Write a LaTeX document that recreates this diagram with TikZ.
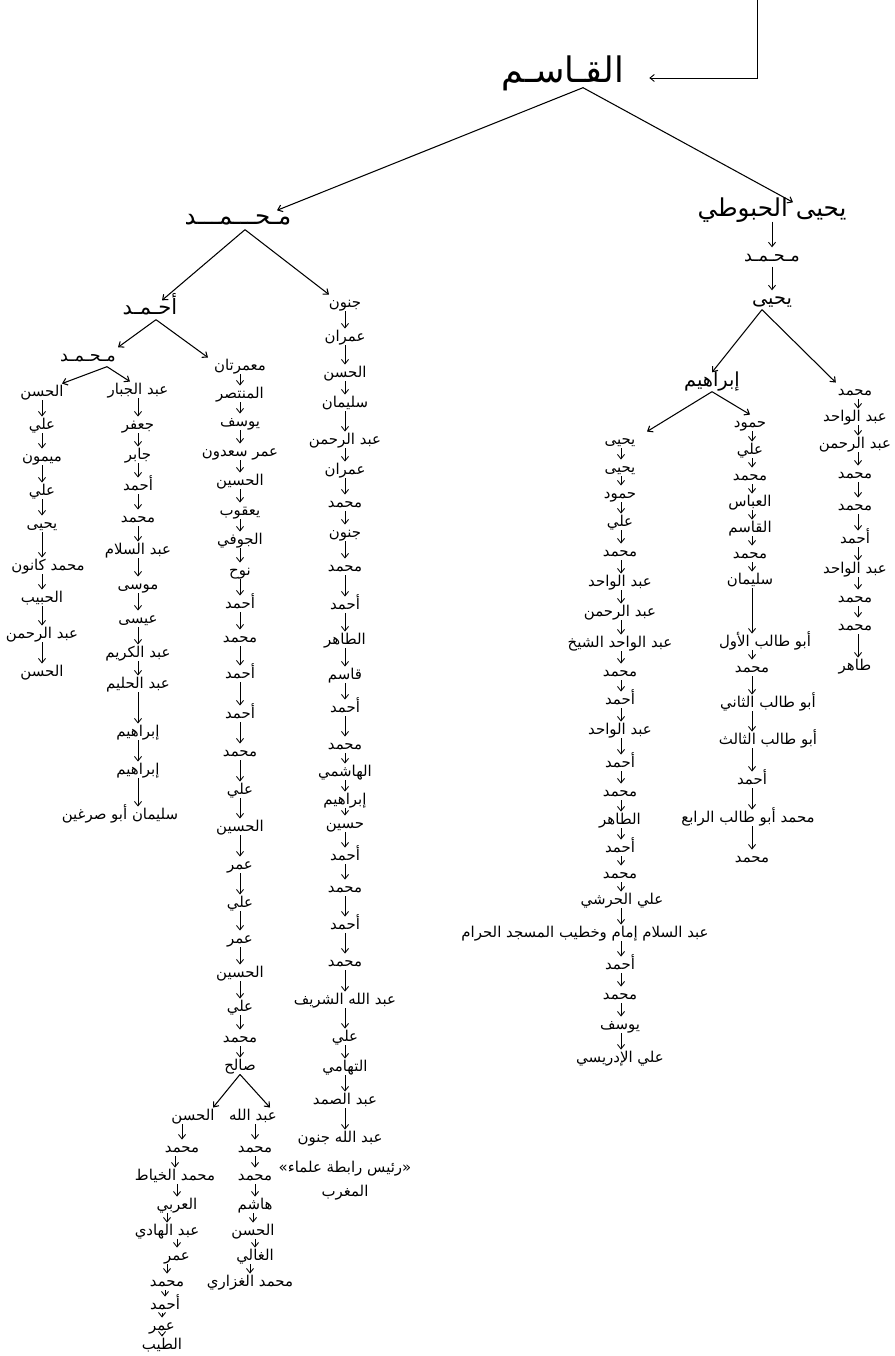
\documentclass[tikz,border=0pt]{standalone}
\usepackage{fontspec}
\newfontfamily\arabicfont[Script=Arabic]{DejaVu Sans}
\TeXXeTstate=1
\usetikzlibrary{arrows.meta,calc}
\tikzset{
  kin/.style={font=\arabicfont\fontsize{8.5}{10}\selectfont, inner xsep=1pt,
    inner ysep=.3pt, text height=1.65ex, text depth=.35ex,
    execute at begin node=\beginR, execute at end node=\endR},
  kinbig/.style={kin, inner ysep=1pt, font=\arabicfont\fontsize{#1}{#1}\selectfont},
  arr/.style={-{Straight Barb[length=2.5pt,width=4pt]}, line width=.5pt},
  fork/.style={arr, line width=.6pt}
}
\begin{document}
\begin{tikzpicture}[x=0.2mm,y=-0.2mm]
\path[use as bounding box,fill=white] (0,0) rectangle (895,1356);
%Kopf
\coordinate (src) at (757,-2);
\node[kinbig=20] (qasim) at (563,78) {القـاسـم};
\draw[arr] (src) |- ([xshift=4.6mm]qasim.east);
\node[kinbig=14] (m1) at (238,220) {مـحـــمـــد};
\node[kinbig=14] (yh) at (772,212) {يحيى الحبوطي};
\node[kinbig=10] (m2) at (772,257) {مـحـمـد};
\node[kinbig=11] (y2) at (772,300) {يحيى};
\node[kinbig=11] (ibr) at (712,382) {إبراهيم};
\node[kinbig=12] (ahmad) at (150,310) {أحـمـد};
\node[kinbig=10] (m3) at (88,357) {مـحـمـد};
\draw[arr] (yh.south) -- (m2.north);
\draw[arr] (m2.south) -- (y2.north);
%Spaltenachsen
\coordinate (mhrx) at (858,0);
\coordinate (hmdx) at (752,0);
\coordinate (yhcx) at (621,0);
\coordinate (jnnx) at (345,0);
\coordinate (mmtx) at (240,0);
\coordinate (hsnx) at (42,0);
\coordinate (jbrx) at (138,0);
%rechte Spalte
\foreach \xx/\yy/\nm [count=\i, remember=\i as \j (initially 0)] in {
  855/391/محمد,855/417/عبد الواحد,855/444/عبد الرحمن,855/474/محمد,
  855/506/محمد,855/539/أحمد,855/569/عبد الواحد,855/598/محمد,
  855/626/محمد,855/666/طاهر}{
  \node[kin] (mhr\i) at (\xx,\yy) {\nm};
  \ifnum\i>1 \draw[arr] (mhr\j.south -| mhrx) -- (mhr\i.north -| mhrx);\fi
}
%Hammud
\foreach \xx/\yy/\nm [count=\i, remember=\i as \j (initially 0)] in {
  750/423/حمود,750/450/علي,750/476/محمد,750/502/العباس,750/528/القاسم,
  750/554/محمد,750/580/سليمان,765/642/أبو طالب الأول,752/668/محمد,
  768/703/أبو طالب الثاني,768/740/أبو طالب الثالث,752/780/أحمد,
  748/818/محمد أبو طالب الرابع,752/858/محمد}{
  \node[kin] (hmd\i) at (\xx,\yy) {\nm};
  \ifnum\i>1 \draw[arr] (hmd\j.south -| hmdx) -- (hmd\i.north -| hmdx);\fi
}
%Yahya
\foreach \xx/\yy/\nm [count=\i, remember=\i as \j (initially 0)] in {
  620/440/يحيى,620/468/يحيى,620/494/حمود,620/522/علي,620/552/محمد,
  620/582/عبد الواحد,620/612/عبد الرحمن,620/643/عبد الواحد الشيخ,
  620/672/محمد,620/700/أحمد,620/730/عبد الواحد,620/763/أحمد,
  620/792/محمد,620/820/الطاهر,620/848/أحمد,620/874/محمد,
  622/900/علي الحرشي,585/933/عبد السلام إمام وخطيب المسجد الحرام,
  620/965/أحمد,620/995/محمد,620/1025/يوسف,620/1058/علي الإدريسي}{
  \node[kin] (yhc\i) at (\xx,\yy) {\nm};
  \ifnum\i>1 \draw[arr] (yhc\j.south -| yhcx) -- (yhc\i.north -| yhcx);\fi
}
%Jannun
\foreach \xx/\yy/\nm [count=\i, remember=\i as \j (initially 0)] in {
  345/303/جنون,345/337/عمران,345/373/الحسن,345/403/سليمان,
  345/440/عبد الرحمن,345/470/عمران,345/503/محمد,345/533/جنون,
  345/567/محمد,345/605/أحمد,345/640/الطاهر,345/675/قاسم,345/708/أحمد,
  345/745/محمد,345/772/الهاشمي,345/800/إبراهيم,345/824/حسين,
  345/856/أحمد,345/888/محمد,345/925/أحمد,345/962/محمد,
  345/1000/عبد الله الشريف,345/1037/علي,345/1067/التهامي,
  345/1100/عبد الصمد,340/1138/عبد الله جنون}{
  \node[kin] (jnn\i) at (\xx,\yy) {\nm};
  \ifnum\i>1 \draw[arr] (jnn\j.south -| jnnx) -- (jnn\i.north -| jnnx);\fi
}
\node[kin] (note1) at (345,1168) {«رئيس رابطة علماء»};
\node[kin] (note2) at (345,1192) {المغرب};
%Mu'ammartan
\foreach \xx/\yy/\nm [count=\i, remember=\i as \j (initially 0)] in {
  240/366/معمرتان,240/394/المنتصر,240/422/يوسف,240/452/عمر سعدون,
  240/481/الحسين,240/511/يعقوب,240/540/الجوفي,240/571/نوح,240/604/أحمد,
  240/638/محمد,240/674/أحمد,240/714/أحمد,240/752/محمد,240/790/علي,
  240/827/الحسين,240/865/عمر,240/903/علي,240/939/عمر,240/973/الحسين,
  240/1007/علي,240/1038/محمد,240/1066/صالح}{
  \node[kin] (mmt\i) at (\xx,\yy) {\nm};
  \ifnum\i>1 \draw[arr] (mmt\j.south -| mmtx) -- (mmt\i.north -| mmtx);\fi
}
%al-Hasan links
\foreach \xx/\yy/\nm [count=\i, remember=\i as \j (initially 0)] in {
  42/392/الحسن,42/425/علي,42/457/ميمون,42/491/علي,42/524/يحيى,
  48/566/محمد كانون,42/598/الحبيب,42/634/عبد الرحمن,42/672/الحسن}{
  \node[kin] (hsn\i) at (\xx,\yy) {\nm};
  \ifnum\i>1 \draw[arr] (hsn\j.south -| hsnx) -- (hsn\i.north -| hsnx);\fi
}
%Abd al-Jabbar
\foreach \xx/\yy/\nm [count=\i, remember=\i as \j (initially 0)] in {
  138/390/عبد الجبار,138/425/جعفر,138/455/جابر,138/486/أحمد,138/518/محمد,
  138/550/عبد السلام,138/585/موسى,138/619/عيسى,138/653/عبد الكريم,
  138/684/عبد الحليم,138/732/إبراهيم,138/770/إبراهيم,
  120/815/سليمان أبو صرغين}{
  \node[kin] (jbr\i) at (\xx,\yy) {\nm};
  \ifnum\i>1 \draw[arr] (jbr\j.south -| jbrx) -- (jbr\i.north -| jbrx);\fi
}
%unter Salih
\foreach \xx/\yy/\nm [count=\i, remember=\i as \j (initially 0)] in {
  193/1116/الحسن,182/1148/محمد,175/1176/محمد الخياط,177/1205/العربي,
  167/1231/عبد الهادي,177/1256/عمر,167/1282/محمد,165/1305/أحمد,
  162/1326/عمر,162/1345/الطيب}{
  \node[kin] (hsb\i) at (\xx,\yy) {\nm};
  \ifnum\i>1 \draw[arr] (hsb\i.north |- hsb\j.south) -- (hsb\i.north);\fi
}
\foreach \xx/\yy/\nm [count=\i, remember=\i as \j (initially 0)] in {
  253/1116/عبد الله,255/1148/محمد,255/1176/محمد,255/1205/هاشم,
  253/1231/الحسن,255/1256/الغالي,250/1282/محمد الغزاري}{
  \node[kin] (abd\i) at (\xx,\yy) {\nm};
  \ifnum\i>1 \draw[arr] (abd\i.north |- abd\j.south) -- (abd\i.north);\fi
}
%Verzweigungen
\draw[fork] ([xshift=4mm]qasim.south) -- ([xshift=7.8mm]m1.north);
\draw[fork] ([xshift=4mm]qasim.south) -- ([xshift=4.2mm]yh.north);
\draw[fork] ([xshift=-2mm]y2.south) -- (ibr.north);
\draw[fork] ([xshift=-2mm]y2.south) -- (mhr1.north west);
\draw[fork] (ibr.south) -- ([xshift=5.4mm]yhc1.north);
\draw[fork] (ibr.south) -- (hmd1.north);
\draw[fork] ([xshift=1.4mm]m1.south) -- ([xshift=2.4mm]ahmad.north);
\draw[fork] ([xshift=1.4mm]m1.south) -- ([xshift=-3.2mm]jnn1.north);
\draw[fork] ([xshift=1.2mm]ahmad.south) -- ([xshift=6mm]m3.north);
\draw[fork] ([xshift=1.2mm]ahmad.south) -- ([xshift=-6.4mm]mmt1.north);
\draw[fork] ([xshift=3.8mm]m3.south) -- ([xshift=4mm]hsn1.north);
\draw[fork] ([xshift=3.8mm]m3.south) -- ([xshift=-1.6mm]jbr1.north);
\draw[fork] (mmt22.south) -- ([xshift=4mm]hsb1.north);
\draw[fork] (mmt22.south) -- ([xshift=3.4mm]abd1.north);
\end{tikzpicture}
\end{document}
